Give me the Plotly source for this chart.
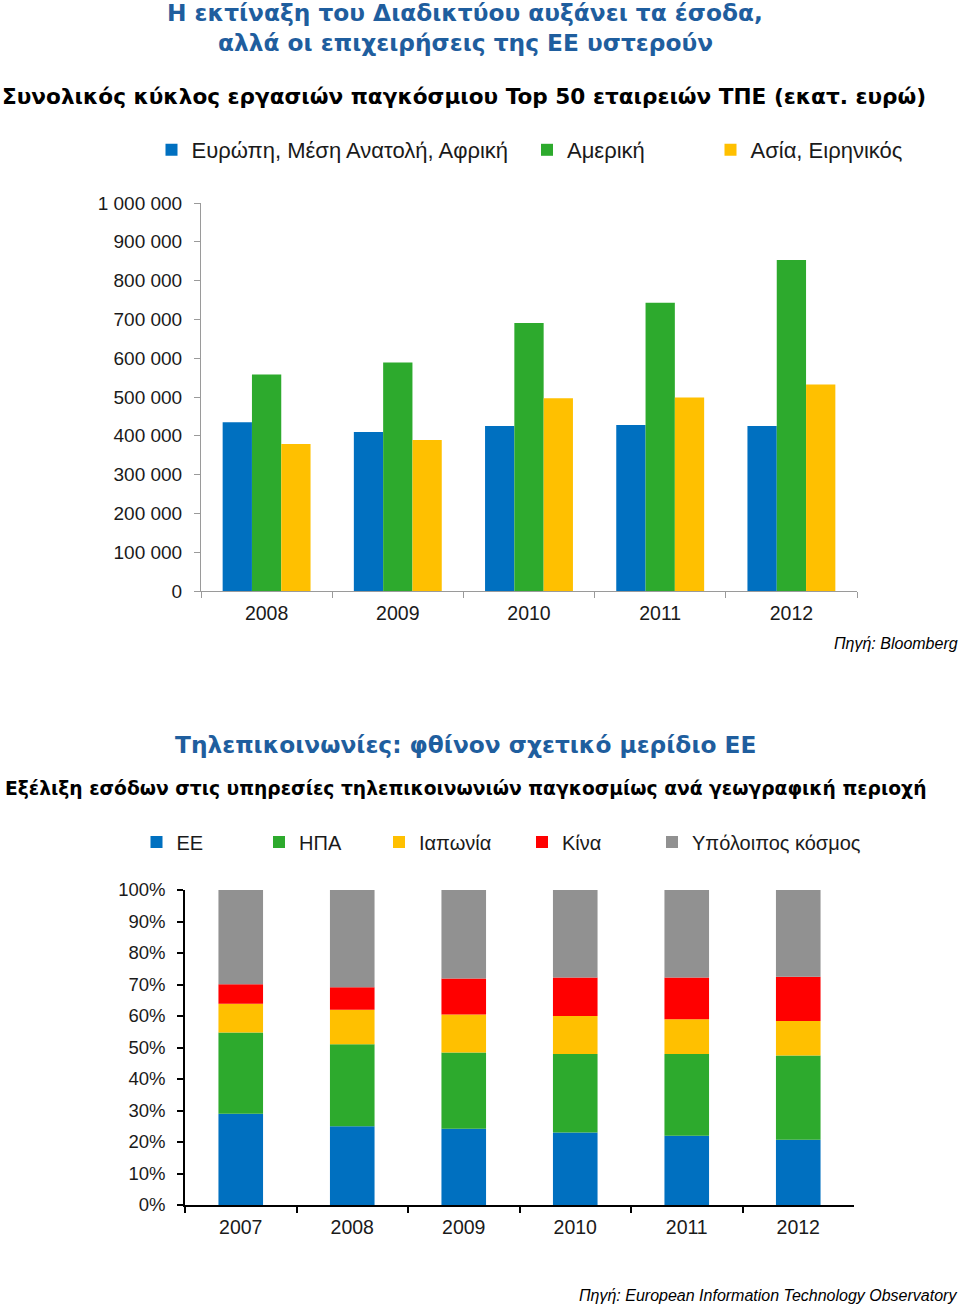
import numpy as np
import plotly.graph_objects as go

W, H = 960, 1305

# ---------------- Data: chart 1 ----------------
years1 = ["2008", "2009", "2010", "2011", "2012"]
emea = [435000, 410000, 425000, 428000, 425000]
americas = [558000, 589000, 691000, 743000, 853000]
apac = [379000, 389000, 497000, 499000, 532000]
names1 = ["Ευρώπη, Μέση Ανατολή, Αφρική", "Αμερική", "Ασία, Ειρηνικός"]
y1_tickvals = [0, 100000, 200000, 300000, 400000, 500000, 600000, 700000, 800000, 900000, 1000000]
y1_ticktext = ["0", "100 000", "200 000", "300 000", "400 000", "500 000",
               "600 000", "700 000", "800 000", "900 000", "1 000 000"]

# ---------------- Data: chart 2 (shares, %) ----------------
years2 = ["2007", "2008", "2009", "2010", "2011", "2012"]
eu = [29.0, 25.0, 24.2, 23.0, 22.0, 20.7]
usa = [25.8, 26.0, 24.2, 24.9, 25.9, 26.8]
japan = [9.1, 11.0, 12.1, 12.1, 11.1, 10.9]
china = [6.2, 7.1, 11.4, 12.2, 13.2, 14.1]
rest = [29.9, 30.9, 28.1, 27.8, 27.8, 27.5]
names2 = ["ΕΕ", "ΗΠΑ", "Ιαπωνία", "Κίνα", "Υπόλοιπος κόσμος"]
y2_tickvals = [0, 10, 20, 30, 40, 50, 60, 70, 80, 90, 100]
y2_ticktext = ["0%", "10%", "20%", "30%", "40%", "50%", "60%", "70%", "80%", "90%", "100%"]

C_BLUE, C_GREEN, C_YELLOW, C_RED, C_GREY = "#0070C0", "#2DAA2D", "#FFC000", "#FF0000", "#919191"
TITLE_BLUE = "#1F5E9E"
ARIAL = "Liberation Sans, Arial, sans-serif"
VERD = "DejaVu Sans, Verdana, sans-serif"


def px(x):
    return x / W


def py(y):
    return 1 - y / H


fig = go.Figure()

# chart 1 traces
for i, (vals, col, nm) in enumerate(zip([emea, americas, apac], [C_BLUE, C_GREEN, C_YELLOW], names1)):
    fig.add_trace(go.Bar(x=years1, y=vals, name=nm, marker=dict(color=col, line=dict(width=0)),
                         xaxis="x", yaxis="y", legend="legend" if i == 0 else f"legend{i+1}"))

# chart 2 traces (stacked via base, sharing one offset group)
series2 = [eu, usa, japan, china, rest]
cols2 = [C_BLUE, C_GREEN, C_YELLOW, C_RED, C_GREY]
base = np.zeros(len(years2))
for i, (vals, col, nm) in enumerate(zip(series2, cols2, names2)):
    fig.add_trace(go.Bar(x=years2, y=vals, base=base.copy(), name=nm, offsetgroup="s2", width=0.4,
                         marker=dict(color=col, line=dict(width=0)),
                         xaxis="x2", yaxis="y2", legend=f"legend{i+4}"))
    base = base + np.array(vals)

# legends, one per entry, positioned like the reference
leg1_x = [151.5, 527, 710.5]
leg2_x = [136.5, 259, 379, 522, 652]
legend_layout = {}
for i, lx in enumerate(leg1_x):
    key = "legend" if i == 0 else f"legend{i+1}"
    legend_layout[key] = dict(x=px(lx), y=py(150), xanchor="left", yanchor="middle",
                              font=dict(family=ARIAL, size=22, color="#1a1a1a"),
                              bgcolor="rgba(0,0,0,0)", borderwidth=0)
for i, lx in enumerate(leg2_x):
    key = f"legend{i+4}"
    legend_layout[key] = dict(x=px(lx), y=py(842), xanchor="left", yanchor="middle",
                              font=dict(family=ARIAL, size=20, color="#1a1a1a"),
                              bgcolor="rgba(0,0,0,0)", borderwidth=0)

GREY_AX = "#9A9A9A"
fig.update_layout(
    width=W, height=H,
    margin=dict(l=0, r=0, t=0, b=0, autoexpand=False),
    paper_bgcolor="white", plot_bgcolor="white",
    barmode="group", bargap=0.33, bargroupgap=0,
    showlegend=True,
    **legend_layout,
    xaxis=dict(domain=[px(201), px(857)], anchor="y", type="category", automargin=False,
               showline=True, linecolor=GREY_AX, linewidth=1,
               ticks="outside", tickson="boundaries", ticklen=6, tickcolor=GREY_AX, tickwidth=1,
               ticklabelstandoff=5,
               tickfont=dict(family=ARIAL, size=19.5, color="#1a1a1a"),
               showgrid=False, zeroline=False),
    yaxis=dict(domain=[py(591), py(203)], anchor="x", range=[0, 1000000], automargin=False,
               tickvals=y1_tickvals, ticktext=y1_ticktext,
               showline=True, linecolor=GREY_AX, linewidth=1,
               ticks="outside", ticklen=6, tickcolor=GREY_AX, tickwidth=1,
               ticklabelstandoff=8,
               tickfont=dict(family=ARIAL, size=19, color="#1a1a1a"),
               showgrid=False, zeroline=False),
    xaxis2=dict(domain=[px(185), px(854)], anchor="y2", type="category", automargin=False,
                showline=True, linecolor="#000000", linewidth=1.5,
                ticks="outside", tickson="boundaries", ticklen=6, tickcolor="#000000", tickwidth=1.5,
                ticklabelstandoff=4,
                tickfont=dict(family=ARIAL, size=19.5, color="#1a1a1a"),
                showgrid=False, zeroline=False),
    yaxis2=dict(domain=[py(1205), py(890)], anchor="x2", range=[0, 100], automargin=False,
                tickvals=y2_tickvals, ticktext=y2_ticktext,
                showline=True, linecolor="#000000", linewidth=1.5,
                ticks="outside", ticklen=6, tickcolor="#000000", tickwidth=1.5,
                ticklabelstandoff=8,
                tickfont=dict(family=ARIAL, size=18.5, color="#1a1a1a"),
                showgrid=False, zeroline=False),
)

annotations = [
    dict(text="<b>Η εκτίναξη του Διαδικτύου αυξάνει τα έσοδα,</b>", x=px(465), y=py(13),
         xanchor="center", yanchor="middle", font=dict(family=VERD, size=23.3, color=TITLE_BLUE)),
    dict(text="<b>αλλά οι επιχειρήσεις της ΕΕ υστερούν</b>", x=px(465), y=py(42),
         xanchor="center", yanchor="middle", font=dict(family=VERD, size=23.3, color=TITLE_BLUE)),
    dict(text="<b>Συνολικός κύκλος εργασιών παγκόσμιου Top 50 εταιρειών ΤΠΕ (εκατ. ευρώ)</b>",
         x=px(0), y=py(96), xanchor="left", yanchor="middle",
         font=dict(family=VERD, size=21.6, color="#000000")),
    dict(text="<i>Πηγή: Bloomberg</i>", x=px(960), y=py(643), xanchor="right", yanchor="middle",
         font=dict(family=ARIAL, size=16, color="#000000")),
    dict(text="<b>Τηλεπικοινωνίες: φθίνον σχετικό μερίδιο ΕΕ</b>", x=px(465), y=py(744),
         xanchor="center", yanchor="middle", font=dict(family=VERD, size=23.3, color=TITLE_BLUE)),
    dict(text="<b>Εξέλιξη εσόδων στις υπηρεσίες τηλεπικοινωνιών παγκοσμίως ανά γεωγραφική περιοχή</b>",
         x=px(3), y=py(789), xanchor="left", yanchor="middle",
         font=dict(family=VERD, size=18.7, color="#000000")),
    dict(text="<i>Πηγή: European Information Technology Observatory</i>", x=px(959), y=py(1295),
         xanchor="right", yanchor="middle", font=dict(family=ARIAL, size=16, color="#000000")),
]
for a in annotations:
    a.update(xref="paper", yref="paper", showarrow=False)
fig.update_layout(annotations=annotations)

fig.write_html("out.html", config={"displayModeBar": False},
               post_script="document.body.style.margin='0';document.body.style.overflow='hidden';")
